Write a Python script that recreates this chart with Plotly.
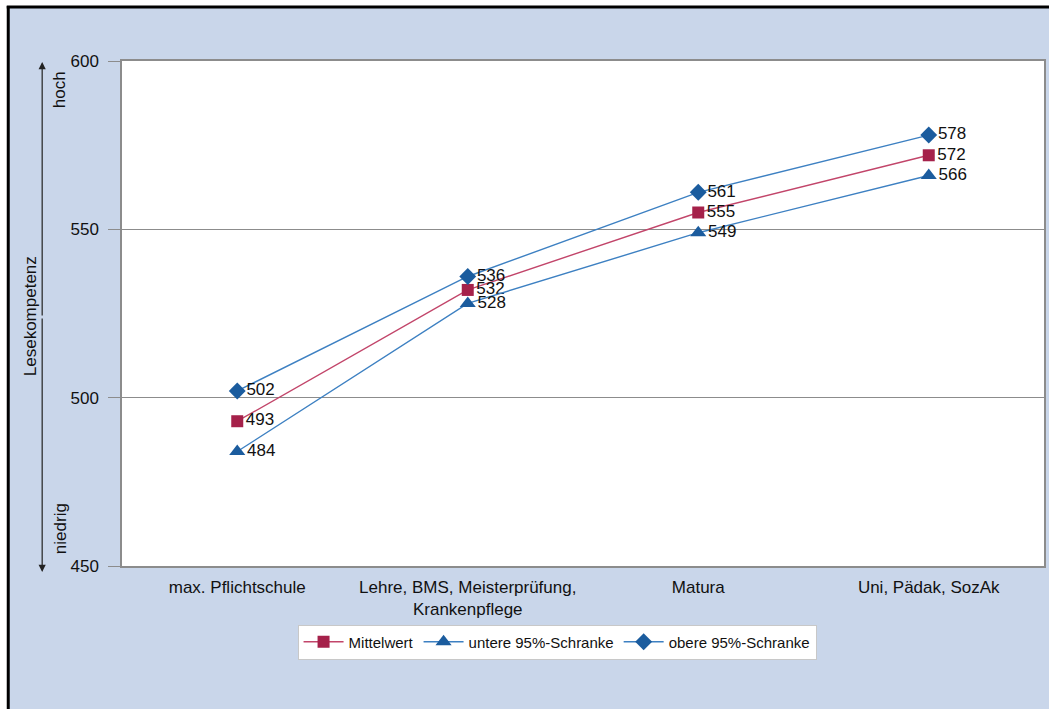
import plotly.graph_objects as go

# data
categories = ["max. Pflichtschule", "Lehre, BMS, Meisterprüfung,<br>Krankenpflege", "Matura", "Uni, Pädak, SozAk"]
mittelwert = [493, 532, 555, 572]
untere = [484, 528, 549, 566]
obere = [502, 536, 561, 578]
y_ticks = [450, 500, 550, 600]

BG = "#C9D6EA"
RED = "#A5214A"
RED_LINE = "#C2456A"
BLUE = "#1B5C9E"
BLUE_LINE = "#3D80C2"
GRID = "#8C8C8C"
FONT = "Liberation Sans, Arial, sans-serif"

W, H = 1049, 709
L, R, T, B = 122, 3, 61, 709 - 566
PW, PH = W - L - R, H - T - B


def px(x):
    # screen x -> paper x
    return (x - L) / PW


def py(y):
    # screen y -> paper y
    return (H - B - y) / PH


fig = go.Figure()


def add_series(name, vals, line_color, marker_color, symbol, size):
    fig.add_trace(go.Scatter(
        x=categories, y=vals, name=name, mode="lines+markers+text",
        line=dict(color=line_color, width=1.4),
        marker=dict(color=marker_color, symbol=symbol, size=size),
        text=[str(v) for v in vals], textposition="middle right",
        textfont=dict(family=FONT, size=17, color="#111"),
    ))


add_series("Mittelwert", mittelwert, RED_LINE, RED, "square", 12)
add_series("untere 95%-Schranke", untere, BLUE_LINE, BLUE, "triangle-up", 14)
add_series("obere 95%-Schranke", obere, BLUE_LINE, BLUE, "diamond", 13)

side_font = dict(family=FONT, size=17, color="#111")
annotations = [
    dict(xref="paper", yref="paper", x=px(42), y=py(62), ax=0, ay=255, text="",
         showarrow=True, arrowhead=2, arrowsize=1.2, arrowwidth=1.2, arrowcolor="#222"),
    dict(xref="paper", yref="paper", x=px(42), y=py(572), ax=0, ay=-255, text="",
         showarrow=True, arrowhead=2, arrowsize=1.2, arrowwidth=1.2, arrowcolor="#222"),
    dict(xref="paper", yref="paper", x=px(59), y=py(90), text="hoch", textangle=-90,
         xanchor="center", yanchor="middle", showarrow=False, font=side_font),
    dict(xref="paper", yref="paper", x=px(60), y=py(529), text="niedrig", textangle=-90,
         xanchor="center", yanchor="middle", showarrow=False, font=side_font),
    dict(xref="paper", yref="paper", x=px(30), y=py(316), text="Lesekompetenz", textangle=-90,
         xanchor="center", yanchor="middle", showarrow=False, font=side_font),
]

# white outer strip, then black frame on the left and top
shapes = [
    dict(type="rect", xref="paper", yref="paper", x0=px(-2), x1=px(7), y0=py(-2), y1=py(712),
         fillcolor="white", line=dict(width=0), layer="below"),
    dict(type="rect", xref="paper", yref="paper", x0=px(-2), x1=px(1052), y0=py(-2), y1=py(6),
         fillcolor="white", line=dict(width=0), layer="below"),
    dict(type="line", xref="paper", yref="paper", x0=px(8), x1=px(8), y0=py(6), y1=py(712),
         line=dict(color="black", width=3)),
    dict(type="line", xref="paper", yref="paper", x0=px(6.5), x1=px(1052), y0=py(7), y1=py(7),
         line=dict(color="black", width=3)),
]

fig.update_layout(
    width=W, height=H,
    paper_bgcolor=BG, plot_bgcolor="white",
    margin=dict(l=L, r=R, t=T, b=B),
    font=dict(family=FONT, size=17, color="#111"),
    xaxis=dict(type="category", range=[-0.5, 3.5], showgrid=False, showline=True,
               linecolor=GRID, linewidth=1.5, mirror=True, ticks="",
               ticklabelstandoff=5,
               tickfont=dict(family=FONT, size=17, color="#111")),
    yaxis=dict(range=[450, 600], tickvals=y_ticks, showgrid=True, gridcolor=GRID,
               gridwidth=1, showline=True, linecolor=GRID, linewidth=1.5, mirror=True,
               ticks="outside", ticklen=12, tickcolor=GRID, zeroline=False,
               ticklabelstandoff=6,
               tickfont=dict(family=FONT, size=17, color="#111")),
    legend=dict(orientation="h", x=px(558), y=py(642), xanchor="center", yanchor="middle",
                bgcolor="white", bordercolor="#C8C8C8", borderwidth=1,
                font=dict(family=FONT, size=15, color="#111"), itemwidth=40),
    annotations=annotations,
    shapes=shapes,
    showlegend=True,
)

# let the figure fill the window exactly (no body margin, no scrollbars)
fig.write_html("out.html", config={"displayModeBar": False},
               post_script="document.body.style.margin='0';document.body.style.overflow='hidden';")
